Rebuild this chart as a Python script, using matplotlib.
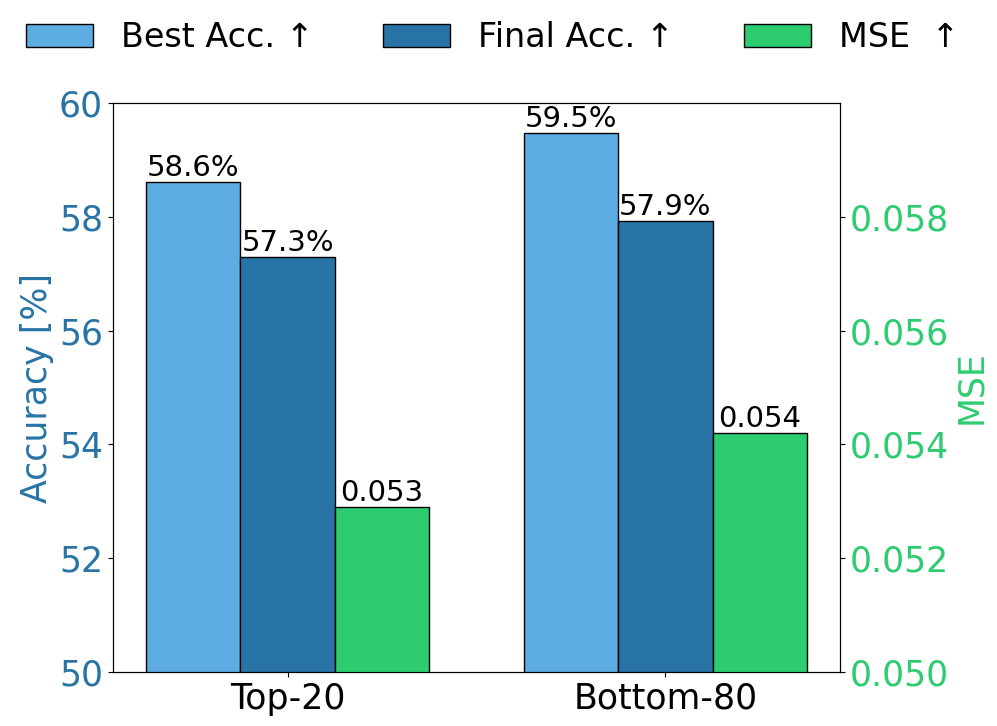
import matplotlib
matplotlib.use("Agg")
import matplotlib.pyplot as plt
import numpy as np

categories = ["Top-20", "Bottom-80"]
best_acc = [58.62, 59.47]
final_acc = [57.30, 57.93]
mse = [0.0529, 0.0542]
legend_labels = ["Best Acc. ↑", "Final Acc. ↑", "MSE  ↑"]

c_best = "#5DADE2"
c_final = "#2874A6"
c_mse = "#2ECC71"

fig = plt.figure(figsize=(9.97, 7.26), dpi=100)
ax = fig.add_axes([0.1133, 0.0744, 0.7292, 0.7837])
ax2 = ax.twinx()

x = np.arange(len(categories))
w = 0.25
b1 = ax.bar(x - w, best_acc, w, color=c_best, edgecolor="black", linewidth=1, label=legend_labels[0])
b2 = ax.bar(x, final_acc, w, color=c_final, edgecolor="black", linewidth=1, label=legend_labels[1])
b3 = ax2.bar(x + w, mse, w, color=c_mse, edgecolor="black", linewidth=1, label=legend_labels[2])

ax.set_ylim(50, 60)
ax.set_yticks([50, 52, 54, 56, 58, 60])
ax2.set_ylim(0.050, 0.060)
ax2.set_yticks([0.050, 0.052, 0.054, 0.056, 0.058])

ax.set_xticks(x)
ax.set_xticklabels(categories, fontsize=25)
ax.tick_params(axis="y", labelsize=25, labelcolor=c_final)
ax2.tick_params(axis="y", labelsize=25, labelcolor=c_mse)

ax.set_ylabel("Accuracy [%]", fontsize=25, color=c_final)
ax2.set_ylabel("MSE", fontsize=25, color=c_mse)

for rect, v in zip(b1, best_acc):
    ax.text(rect.get_x() + rect.get_width() / 2, v, f"{v:.1f}%", ha="center", va="bottom", fontsize=21)
for rect, v in zip(b2, final_acc):
    ax.text(rect.get_x() + rect.get_width() / 2, v, f"{v:.1f}%", ha="center", va="bottom", fontsize=21)
for rect, v in zip(b3, mse):
    ax2.text(rect.get_x() + rect.get_width() / 2, v, f"{v:.3f}", ha="center", va="bottom", fontsize=21)

fig.legend(handles=[b1, b2, b3], labels=legend_labels, loc="center", bbox_to_anchor=(0.494, 0.948),
           ncol=3, frameon=False, fontsize=24, handlelength=2.0, handletextpad=0.84, columnspacing=2.1)

fig.savefig("out.png", dpi=100)
